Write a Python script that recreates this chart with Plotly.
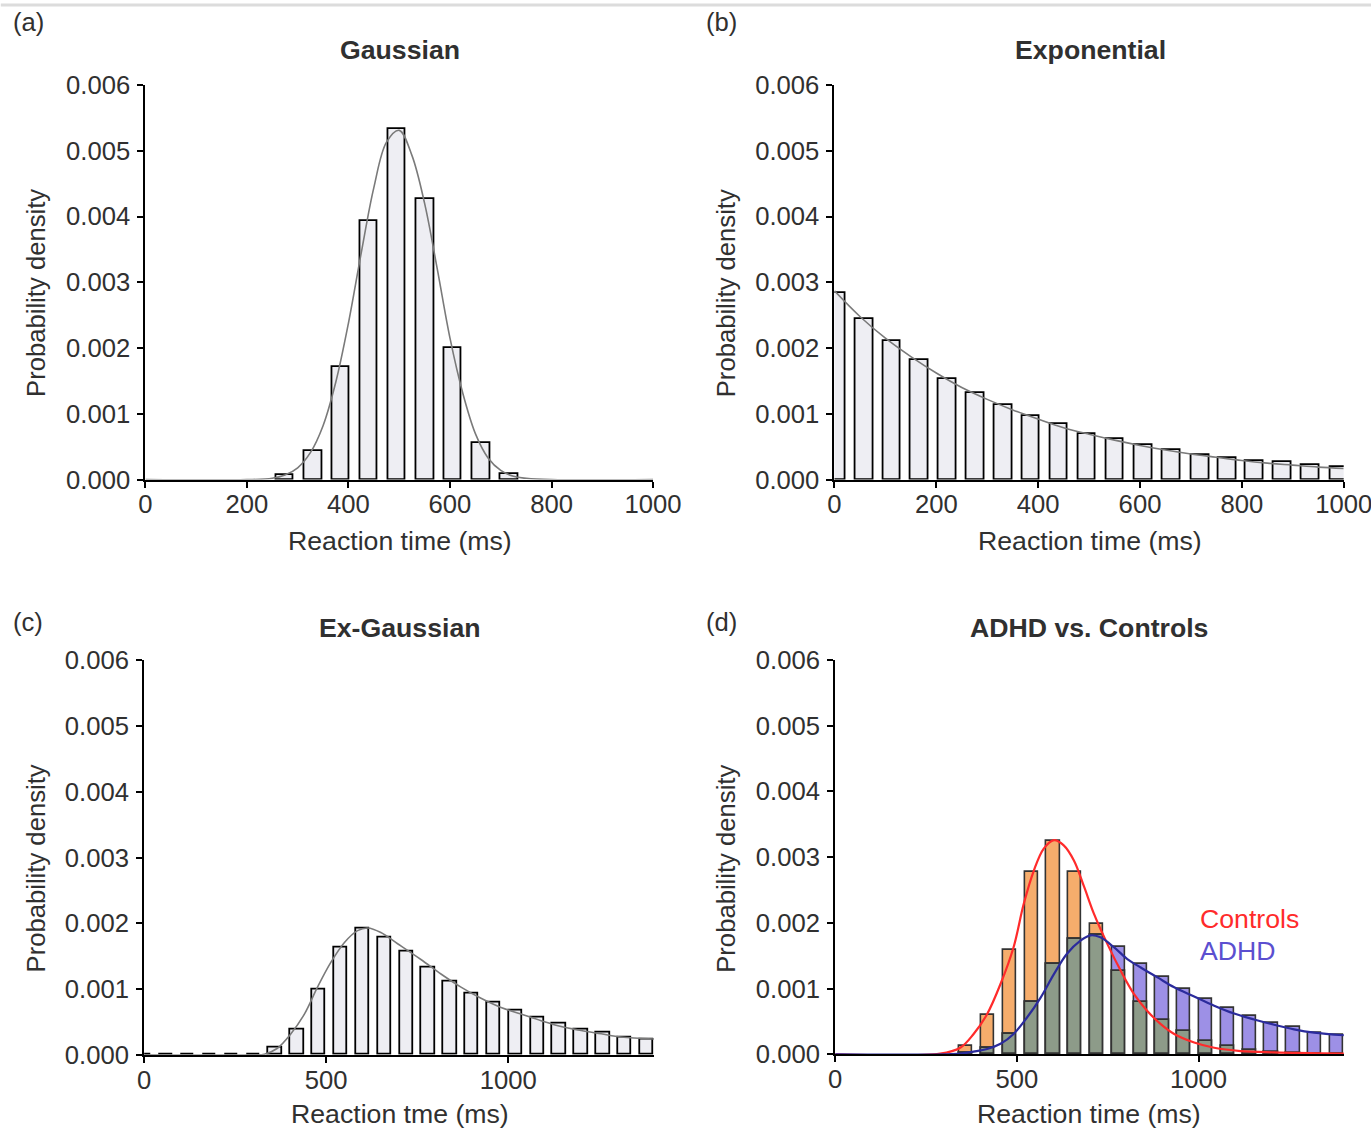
import plotly.graph_objects as go

# ---------------- data ----------------
# (a) Gaussian
a_bin_centers = [275, 331, 385, 440, 495, 551, 606, 662, 717]
a_density = [0.00007, 0.00044, 0.00171, 0.00393, 0.00533, 0.00426, 0.00200, 0.00055, 0.00008]
a_curve_x = [0, 200, 250, 275, 300, 325, 350, 375, 400, 425, 450, 475, 500, 525, 550, 575, 600,
             625, 650, 675, 700, 725, 750, 800, 1000]
a_curve_y = [0, 0, 0.00002, 0.00007, 0.00018, 0.00041, 0.00082, 0.00148, 0.00238, 0.00344, 0.00444,
             0.00513, 0.00531, 0.00493, 0.00420, 0.00320, 0.00215, 0.00132, 0.00070, 0.00033,
             0.00014, 0.00005, 0.00002, 0, 0]

# (b) Exponential
b_bin_centers = [4, 59, 113, 167, 222, 277, 332, 386, 441, 496, 551, 607, 662, 718, 772, 825, 880, 935, 991]
b_density = [0.00284, 0.00244, 0.00211, 0.00182, 0.00153, 0.00131, 0.00113, 0.00097, 0.00084, 0.00070,
             0.00062, 0.00052, 0.00045, 0.00037, 0.00033, 0.00029, 0.00027, 0.00023, 0.00019]
b_curve_x = [0, 50, 100, 150, 200, 250, 300, 350, 400, 450, 500, 550, 600, 650, 700, 750, 800, 850,
             900, 950, 1000]
b_curve_y = [0.00287, 0.00248, 0.00215, 0.00187, 0.00162, 0.00140, 0.00122, 0.00106, 0.00092, 0.00079,
             0.00069, 0.00060, 0.00052, 0.00045, 0.00039, 0.00034, 0.00029, 0.00025, 0.00022,
             0.00019, 0.00017]

# (c) Ex-Gaussian
c_bin_centers = [0, 60, 120, 180, 240, 300, 360, 420, 480, 540, 600, 660, 720, 780, 840, 900, 960,
                 1020, 1080, 1140, 1200, 1260, 1320, 1380]
c_density = [0, 0, 0, 0, 0, 0, 0.00011, 0.00039, 0.00100, 0.00164, 0.00192, 0.00179, 0.00157,
             0.00133, 0.00112, 0.00094, 0.00080, 0.00068, 0.00057, 0.00048, 0.00039, 0.00034,
             0.00027, 0.00024]
c_curve_x = [0, 300, 330, 366, 403, 440, 476, 513, 550, 586, 614, 650, 696, 760, 815, 870, 925, 980,
             1035, 1090, 1145, 1200, 1255, 1310, 1400]
c_curve_y = [0, 0, 0.00001, 0.00010, 0.00032, 0.00062, 0.00103, 0.00141, 0.00171, 0.00189, 0.00193,
             0.00186, 0.00169, 0.00145, 0.00123, 0.00103, 0.00086, 0.00072, 0.00062, 0.00052,
             0.00043, 0.00037, 0.00032, 0.00027, 0.00024]

# (d) ADHD vs. Controls
d_bin_centers = [360, 420, 480, 540, 600, 660, 720, 780, 840, 900, 960, 1020, 1080, 1140, 1200, 1260,
                 1320, 1380]
d_controls = [0.00013, 0.00060, 0.00159, 0.00278, 0.00325, 0.00278, 0.00198, 0.00127, 0.00080,
              0.00052, 0.00035, 0.00020, 0.00012, 0.00007, 0.00004, 0.00002, 0.00001, 0.0]
d_adhd = [0.00002, 0.00009, 0.00031, 0.00080, 0.00137, 0.00176, 0.00181, 0.00163, 0.00138, 0.00117,
          0.00099, 0.00084, 0.00070, 0.00058, 0.00047, 0.00041, 0.00033, 0.00030]
d_controls_curve_x = [0, 289, 344, 381, 418, 455, 491, 519, 547, 574, 602, 629, 657, 685, 712, 749,
                      786, 822, 859, 896, 933, 988, 1043, 1116, 1208, 1400]
d_controls_curve_y = [0, 0.00001, 0.00010, 0.00031, 0.00061, 0.00107, 0.00163, 0.00229, 0.00280,
                      0.00313, 0.00326, 0.00318, 0.00295, 0.00255, 0.00214, 0.00168, 0.00127,
                      0.00092, 0.00066, 0.00046, 0.00031, 0.00018, 0.00010, 0.00005, 0.00003, 0.00001]
d_adhd_curve_x = [0, 300, 344, 381, 418, 455, 491, 528, 565, 602, 638, 675, 703, 730, 767, 804, 841,
                  887, 933, 988, 1043, 1098, 1153, 1208, 1263, 1318, 1400]
d_adhd_curve_y = [0, 0, 0.00001, 0.00004, 0.00008, 0.00016, 0.00031, 0.00056, 0.00086, 0.00122,
                  0.00153, 0.00173, 0.00181, 0.00178, 0.00163, 0.00145, 0.00132, 0.00117, 0.00102,
                  0.00088, 0.00074, 0.00062, 0.00053, 0.00045, 0.00038, 0.00033, 0.00029]

y_ticks = [0, 0.001, 0.002, 0.003, 0.004, 0.005, 0.006]
y_tick_labels = ["0.000", "0.001", "0.002", "0.003", "0.004", "0.005", "0.006"]
x_ticks_ab = [0, 200, 400, 600, 800, 1000]
x_ticks_cd = [0, 500, 1000]

# ---------------- layout geometry ----------------
# target positions are given in reference-picture pixels; the page is captured
# slightly larger than the figure and shrunk, so map target -> figure pixels.
W, H = 1408, 1160
SX, SY, OX, OY = 0.974, 0.975, 6.2, 14.1
K = 1.026  # font compensation


def fx(X):
    return (X - OX) / SX


def fy(Y):
    return (Y - OY) / SY


def px(X):
    return fx(X) / W


def py(Y):
    return 1 - fy(Y) / H


FONT = "Liberation Sans, Arial, sans-serif"
TXT = "#303030"
BAR_FILL = "#eeeef3"
CURVE = "#7a7a7a"
ORANGE = "#f6ad6c"
PURPLE = "#9d90e6"
OVERLAP = "#8d9b89"
RED = "#ff2b2b"
BLUE = "#2b2b9c"
BLUE_TXT = "#5b4fd0"

fig = go.Figure()

bar_line = dict(color="black", width=1.8)
# panel a
fig.add_trace(go.Bar(x=a_bin_centers, y=a_density, width=34.5, marker=dict(color=BAR_FILL, line=bar_line),
                     xaxis="x", yaxis="y", showlegend=False))
fig.add_trace(go.Scatter(x=a_curve_x, y=a_curve_y, mode="lines", line=dict(color=CURVE, width=1.6, shape="spline"),
                         xaxis="x", yaxis="y", showlegend=False))
# panel b
fig.add_trace(go.Bar(x=b_bin_centers, y=b_density, width=35, marker=dict(color=BAR_FILL, line=bar_line),
                     xaxis="x2", yaxis="y2", showlegend=False))
fig.add_trace(go.Scatter(x=b_curve_x, y=b_curve_y, mode="lines", line=dict(color=CURVE, width=1.6, shape="spline"),
                         xaxis="x2", yaxis="y2", showlegend=False))
# panel c
fig.add_trace(go.Bar(x=c_bin_centers, y=c_density, width=36.6, marker=dict(color=BAR_FILL, line=bar_line),
                     xaxis="x3", yaxis="y3", showlegend=False))
fig.add_trace(go.Scatter(x=c_curve_x, y=c_curve_y, mode="lines", line=dict(color=CURVE, width=1.6, shape="spline"),
                         xaxis="x3", yaxis="y3", showlegend=False))
# panel d
d_overlap = [min(c, a) for c, a in zip(d_controls, d_adhd)]
d_line = dict(color="#333", width=1.6)
fig.add_trace(go.Bar(x=d_bin_centers, y=d_controls, width=36.6, marker=dict(color=ORANGE, line=d_line),
                     xaxis="x4", yaxis="y4", showlegend=False))
fig.add_trace(go.Bar(x=d_bin_centers, y=d_adhd, width=36.6, marker=dict(color=PURPLE, line=d_line),
                     xaxis="x4", yaxis="y4", showlegend=False))
fig.add_trace(go.Bar(x=d_bin_centers, y=d_overlap, width=36.6, marker=dict(color=OVERLAP, line=d_line),
                     xaxis="x4", yaxis="y4", showlegend=False))
fig.add_trace(go.Scatter(x=d_controls_curve_x, y=d_controls_curve_y, mode="lines",
                         line=dict(color=RED, width=2.2, shape="spline"), xaxis="x4", yaxis="y4", showlegend=False))
fig.add_trace(go.Scatter(x=d_adhd_curve_x, y=d_adhd_curve_y, mode="lines",
                         line=dict(color=BLUE, width=2.2, shape="spline"), xaxis="x4", yaxis="y4", showlegend=False))

axis_common = dict(showline=True, linecolor="black", linewidth=2, ticks="outside", ticklen=6, tickwidth=2,
                   tickcolor="black", showgrid=False, zeroline=False,
                   tickfont=dict(family=FONT, size=25 * K, color=TXT))

panels = {
    # name: (x0, x1, ytop, ybottom) in reference pixels, xrange, xticks
    "1": (144.5, 652.0, 85.0, 479.3, [0, 1000], x_ticks_ab),
    "2": (833.3, 1342.3, 85.0, 479.3, [0, 1000], x_ticks_ab),
    "3": (143.3, 652.9, 660.0, 1054.0, [0, 1400], x_ticks_cd),
    "4": (834.0, 1342.5, 659.5, 1053.5, [0, 1400], x_ticks_cd),
}

layout_axes = {}
for k, (x0, x1, yt, yb, xr, xt) in panels.items():
    xname = "xaxis" if k == "1" else f"xaxis{k}"
    yname = "yaxis" if k == "1" else f"yaxis{k}"
    yid = "y" if k == "1" else f"y{k}"
    xid = "x" if k == "1" else f"x{k}"
    layout_axes[xname] = dict(axis_common, domain=[px(x0), min(1.0, px(x1))], range=xr, tickvals=xt,
                              anchor=yid, ticklabelstandoff=-5)
    layout_axes[yname] = dict(axis_common, domain=[py(yb), py(yt)], range=[0, 0.006], tickvals=y_ticks,
                              ticktext=y_tick_labels, anchor=xid, ticklabelstandoff=2)

annotations = []


def txt(X, Y, s, size=25, bold=False, color=TXT, xanchor="center", angle=0):
    annotations.append(dict(xref="paper", yref="paper", x=px(X), y=py(Y), text=(f"<b>{s}</b>" if bold else s),
                            showarrow=False, xanchor=xanchor, yanchor="middle", textangle=angle,
                            font=dict(family=FONT, size=size * K, color=color)))


# panel labels
txt(10, 22, "(a)", size=25, xanchor="left")
txt(703, 22, "(b)", size=25, xanchor="left")
txt(10, 622, "(c)", size=25, xanchor="left")
txt(703, 622, "(d)", size=25, xanchor="left")
# titles
txt(399, 50, "Gaussian", size=26, bold=True)
txt(1089, 50, "Exponential", size=26, bold=True)
txt(399, 628, "Ex-Gaussian", size=26, bold=True)
txt(1088, 628, "ADHD vs. Controls", size=26, bold=True)
# x titles
txt(399, 541, "Reaction time (ms)", size=26)
txt(1089, 541, "Reaction time (ms)", size=26)
txt(399, 1113, "Reaction tme (ms)", size=26)
txt(1088, 1113, "Reaction time (ms)", size=26)
# y titles
txt(35, 293, "Probability density", size=25, angle=-90)
txt(725, 293, "Probability density", size=25, angle=-90)
txt(35, 868, "Probability density", size=25, angle=-90)
txt(725, 868, "Probability density", size=25, angle=-90)
# legend text
txt(1197, 918, "Controls", size=26, color=RED, xanchor="left")
txt(1197, 950, "ADHD", size=26, color=BLUE_TXT, xanchor="left")

fig.update_layout(
    width=W, height=H, autosize=False,
    margin=dict(l=0, r=0, t=0, b=0),
    paper_bgcolor="white", plot_bgcolor="white",
    barmode="overlay", bargap=0,
    annotations=annotations,
    shapes=[dict(type="line", xref="paper", yref="paper", x0=px(0), x1=px(1371), y0=py(5), y1=py(5),
                 line=dict(color="#dcdcdc", width=3))],
    **layout_axes,
)

fig.write_html("out.html")
